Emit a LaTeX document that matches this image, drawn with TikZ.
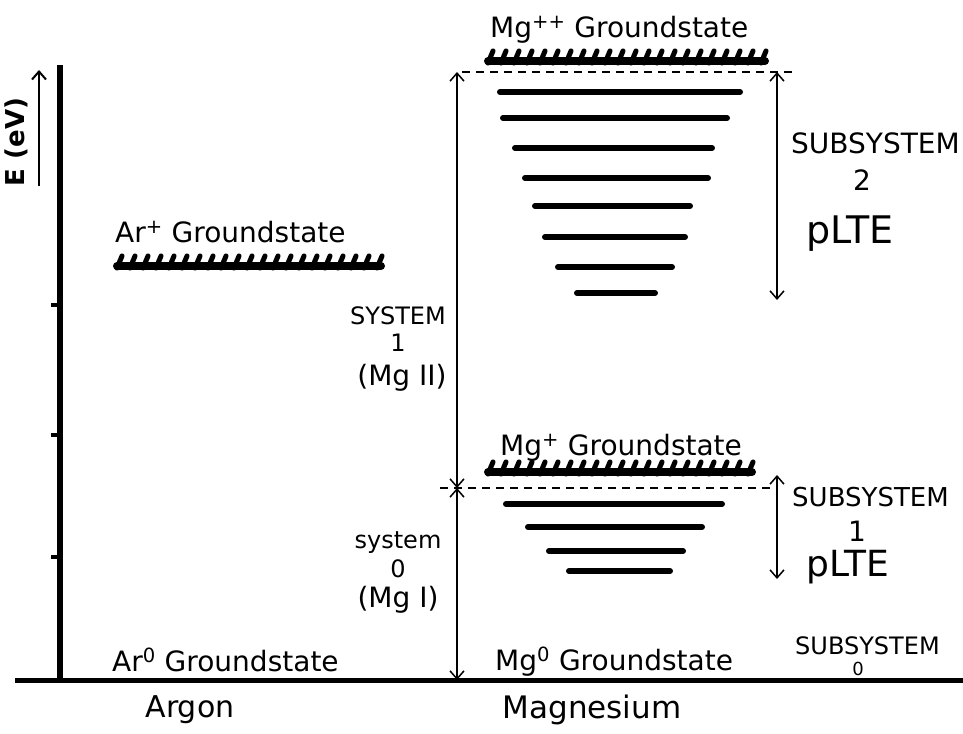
\documentclass[tikz,border=0pt]{standalone}
\usepackage{fontspec}
\setmainfont{DejaVu Sans}
\usetikzlibrary{arrows.meta}

\tikzset{
  level/.style={line width=6pt, line cap=round},
  hatch/.style={line width=5pt, line cap=round},
  gap/.style={dash pattern=on 8pt off 6pt, line width=1.2pt},
  span/.style={line width=1.5pt, {Straight Barb[length=8pt,width=14pt]}-{Straight Barb[length=8pt,width=14pt]}},
  lbl/.style={font=\fontsize{28}{30}\selectfont, inner sep=0pt},
  syslbl/.style={font=\fontsize{24}{26}\selectfont, inner sep=0pt},
  big/.style={font=\fontsize{38}{40}\selectfont, inner sep=0pt},
}

% hatched ground state band: start x, number of strokes, y
\newcommand{\gsband}[3]{%
  \draw[line width=8pt, line cap=round] (#1,#3+4) -- ({#1+#2*13+4},#3+4);
  \foreach \i in {0,...,#2}
    \draw[hatch] ({#1+\i*13},#3+6) -- ({#1+\i*13+5},#3-6);
}

\begin{document}
\begin{tikzpicture}[x=1pt, y=-1pt]
  \useasboundingbox (0,0) rectangle (963,733);

  % energy axis
  \coordinate (axtop) at (60,65);
  \coordinate (axbot) at (60,683);
  \coordinate (bl) at (15,680);
  \coordinate (br) at (963,680);
  \draw[line width=6pt] (axtop) -- (axbot);
  \draw[line width=5pt] (bl) -- (br);
  \foreach \ty in {305,435,557}
    \draw[line width=4pt] (51,\ty) -- (60,\ty);

  \coordinate (ea) at (39,186);
  \coordinate (eb) at (39,70);
  \draw[line width=2pt, -{Straight Barb[length=8pt,width=14pt]}] (ea) -- (eb);
  \node[lbl, rotate=90, font=\fontsize{26}{28}\bfseries] (eunit) at (16,142) {E (eV)};

  % argon
  \node[lbl, anchor=west] (arplus) at (115,232) {Ar\textsuperscript{+} Groundstate};
  \gsband{117}{20}{262}
  \node[lbl, anchor=west] (arzero) at (112,660) {Ar\textsuperscript{0} Groundstate};
  \node[lbl, font=\fontsize{30}{32}\selectfont] (argon) at (190,710) {Argon};

  % magnesium, system 2
  \node[lbl, anchor=west] (mgpp) at (490,30) {Mg\textsuperscript{++} Groundstate};
  \gsband{488}{21}{57}
  \draw[gap] (462,72) -- (792,72);
  \foreach \y/\a/\b in {92/500/740, 118/503/727, 148/515/712, 178/525/708,
                        206/535/690, 237/545/685, 267/558/672, 293/577/655}
    \draw[level] (\a,\y) -- (\b,\y);

  % magnesium, system 1
  \node[lbl, anchor=west] (mgp) at (500,448) {Mg\textsuperscript{+} Groundstate};
  \gsband{488}{20}{468}
  \draw[gap] (440,488) -- (778,488);
  \foreach \y/\a/\b in {504/506/722, 527/528/702, 551/549/683, 571/569/670}
    \draw[level] (\a,\y) -- (\b,\y);

  \node[lbl, anchor=west] (mgzero) at (495,662) {Mg\textsuperscript{0} Groundstate};
  \node[lbl, font=\fontsize{31}{33}\selectfont] (magnes) at (592,710) {Magnesium};

  % system spans
  \coordinate (s1top) at (457,72);
  \coordinate (s1bot) at (457,488);
  \coordinate (s0bot) at (457,680);
  \draw[span] (s1top) -- (s1bot);
  \draw[span] (s1bot) -- (s0bot);

  \node[syslbl] (sys1) at (398,316) {SYSTEM};
  \node[syslbl] (sys1n) at (398,343) {1};
  \node[lbl] (sys1mg) at (402,378) {(Mg II)};
  \node[syslbl] (sys0) at (398,543) {system};
  \node[syslbl] (sys0n) at (398,569) {0};
  \node[lbl] (sys0mg) at (398,600) {(Mg I)};

  % subsystem spans
  \coordinate (ss2top) at (777,72);
  \coordinate (ss2bot) at (777,300);
  \coordinate (ss1top) at (777,475);
  \coordinate (ss1bot) at (777,579);
  \draw[span] (ss2top) -- (ss2bot);
  \draw[span] (ss1top) -- (ss1bot);

  \node[lbl, anchor=west] (sub2) at (791,143) {SUBSYSTEM};
  \node[lbl] (sub2n) at (862,180) {2};
  \node[big, anchor=west] (plte2) at (806,234) {pLTE};
  \node[lbl, anchor=west, font=\fontsize{26}{28}\selectfont] (sub1) at (792,497) {SUBSYSTEM};
  \node[lbl] (sub1n) at (857,531) {1};
  \node[big, anchor=west, font=\fontsize{36}{38}\selectfont] (plte1) at (806,567) {pLTE};
  \node[syslbl, anchor=west] (sub0) at (795,646) {SUBSYSTEM};
  \node[syslbl, font=\fontsize{18}{20}\selectfont] (sub0n) at (858,669) {0};
\end{tikzpicture}
\end{document}
